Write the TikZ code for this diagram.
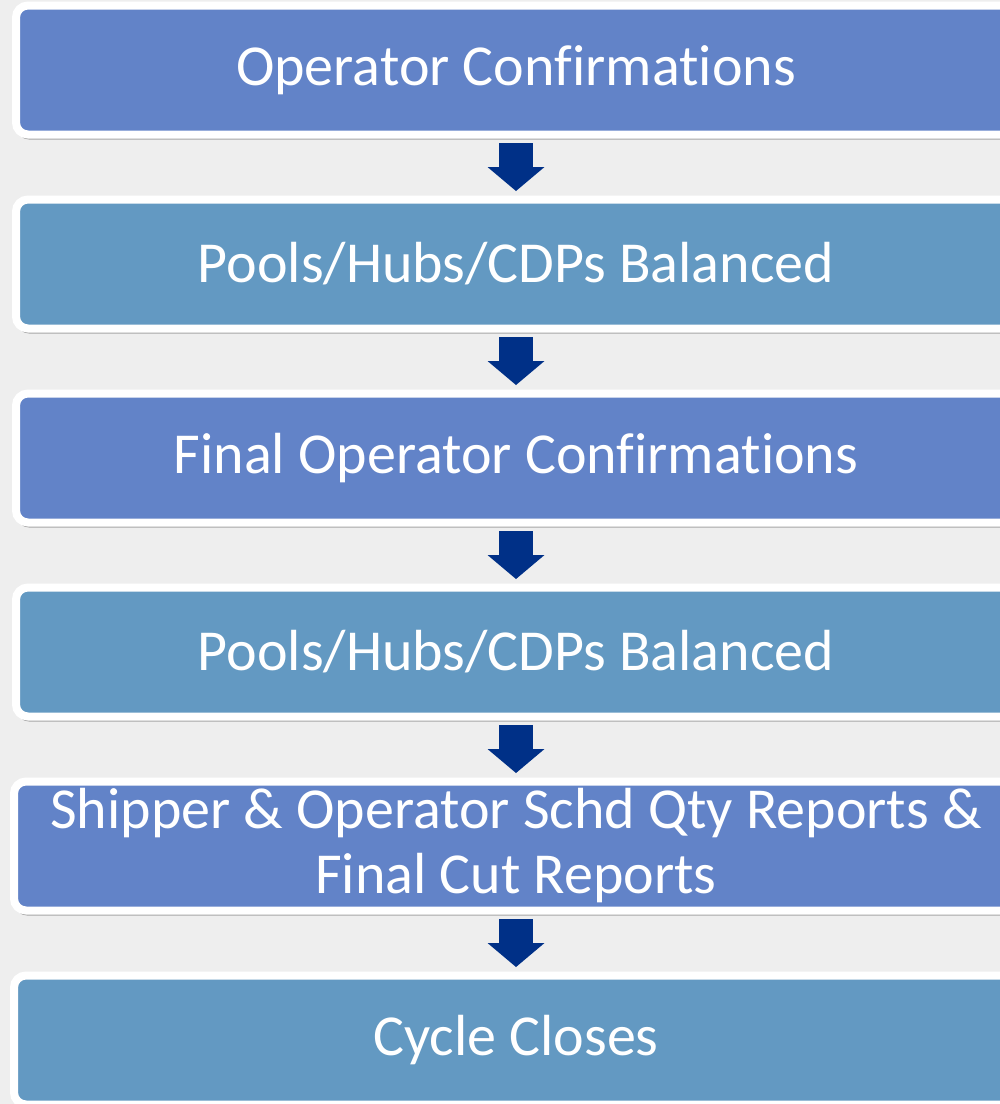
\documentclass[tikz,border=0pt]{standalone}
\usepackage{fontspec}
\setmainfont{Carlito}[Ligatures=NoCommon]
\usetikzlibrary{arrows.meta,shadows}
\definecolor{stepblue}{RGB}{98,131,200}
\definecolor{stepsteel}{RGB}{99,153,194}
\definecolor{arrowblue}{RGB}{0,48,135}
\definecolor{backgray}{RGB}{238,238,238}

\begin{document}
\begin{tikzpicture}[x=1pt,y=-1pt]
  \def\dy{194}
  \tikzset{stage/.style={draw=white,line width=8pt,rounded corners=12pt,minimum width=1000pt,minimum height=129pt,inner sep=0pt,text=white,font=\fontsize{58}{65}\selectfont,align=center,drop shadow={shadow xshift=1pt,shadow yshift=-5pt,opacity=0.3,fill=black}}}
  \tikzset{flow/.style={arrowblue,line width=34pt,-{Triangle[width=57pt,length=24pt,line width=0pt]},shorten <=4.5pt,shorten >=4.5pt}}
  \fill[backgray] (0,0) rectangle (1000,1104);
  \clip (0,0) rectangle (1000,1104);
  \node[stage,fill=stepblue] (confirm) at (516,70) {Operator Confirmations};
  \node[stage,fill=stepsteel] (balance) at (516,70+\dy) {Pools/Hubs/CDPs Balanced};
  \node[stage,fill=stepblue] (final) at (516,70+2*\dy) {Final Operator Confirmations};
  \node[stage,fill=stepsteel] (rebalance) at (516,70+3*\dy) {Pools/Hubs/CDPs Balanced};
  \node[stage,fill=stepblue,minimum width=1004pt] (reports) at (516,70+4*\dy) {Shipper \& Operator Schd Qty Reports \&\\Final Cut Reports};
  \node[stage,fill=stepsteel,minimum width=1004pt] (close) at (516,70+5*\dy) {Cycle Closes};
  \draw[flow] (confirm) -- (balance);
  \draw[flow] (balance) -- (final);
  \draw[flow] (final) -- (rebalance);
  \draw[flow] (rebalance) -- (reports);
  \draw[flow] (reports) -- (close);
\end{tikzpicture}
\end{document}
